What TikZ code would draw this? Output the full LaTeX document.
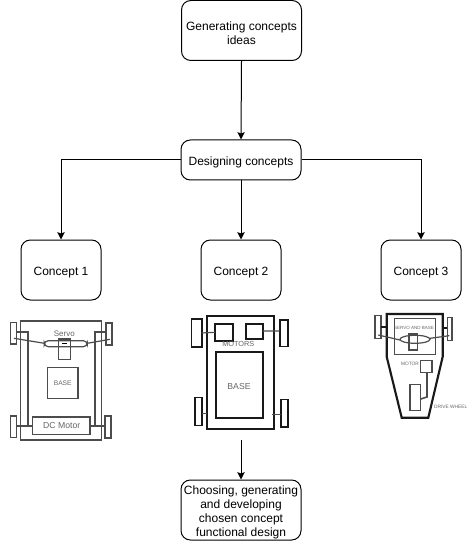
\documentclass[tikz,border=0pt]{standalone}
\usepackage{fontspec}
\setmainfont{Liberation Sans}
\usetikzlibrary{arrows,arrows.meta,calc}
\newcommand{\dropline}{\rule{0pt}{10.5pt}}
\begin{document}
\begin{tikzpicture}
  [
    x=0.75pt, y=-0.75pt,
    line width=0.75pt,
    block/.style =
      {draw, rectangle, rounded corners=7pt, align=center, font=\fontsize{9}{10.5}\selectfont,
       inner sep=0pt, minimum width=60pt, minimum height=45pt},
    wide/.style =
      {block, minimum width=90pt},
    sketch/.style = {draw=black!70, line width=0.9pt},
    heavy/.style = {draw=black!90, line width=1.6pt},
    tag/.style = {text=black!60, inner sep=0pt, font=\fontsize{5.5}{6}\selectfont},
    tiny/.style = {tag, font=\fontsize{3.6}{4}\selectfont}
  ]
  \useasboundingbox (0,0) rectangle (472,541);

  \node [wide] at (241.5,30.5) (g) {\dropline Generating concepts\\ideas};
  \node [wide, minimum height=30pt] at (241,160) (n) {\rule{0pt}{9.5pt}Designing concepts};
  \node [block] at ( 61,270) (a) {\rule{0pt}{9.5pt}Concept 1};
  \node [block] at (241,270) (b) {\rule{0pt}{9.5pt}Concept 2};
  \node [block] at (421,270) (c) {\rule{0pt}{9.5pt}Concept 3};
  \node [wide] at (241,510) (f) {\dropline Choosing, generating\\and developing\\chosen concept\\functional design};
  \coordinate (p) at (241,440);

  \draw[->, >={Stealth[length=5.5pt,width=5.5pt,inset=1pt]}] (g.south) -- (n.north);
  \draw[->, >={Stealth[length=5.5pt,width=5.5pt,inset=1pt]}] (n.west) -| (a.north);
  \draw[->, >={Stealth[length=5.5pt,width=5.5pt,inset=1pt]}] (n.south) -- (b.north);
  \draw[->, >={Stealth[length=5.5pt,width=5.5pt,inset=1pt]}] (n.east) -| (c.north);
  \draw[->, >={Stealth[length=5.5pt,width=5.5pt,inset=1pt]}] (p) -- (f.north);

  % concept 1
  \draw[sketch] (20.3,321) rectangle (101.7,440);
  \draw[sketch] (16.7,332) -| (28,427);
  \draw[sketch] (105,332) -| (95,427);
  \draw[sketch] (10.3,322.7) rectangle (16.7,344);
  \draw[sketch] (106,323) rectangle (112,345);
  \draw[sketch] (10.3,416) rectangle (16.7,437.7);
  \draw[sketch] (105,416) rectangle (111,438);
  \draw[sketch, fill=white] (32.3,417) rectangle (90,434.3);
  \draw[sketch] (16.7,426) -- (32.3,426) (90,426) -- (105,426);
  \draw[sketch] (47.3,367.3) rectangle (78,398.3);
  \draw[sketch] (14,338.3) -- (44.3,343.3) (87.3,343.3) -- (110,339.3);
  \draw[sketch, rounded corners=3pt] (44.3,340.7) rectangle (87.3,346.7);
  \draw[sketch] (58.3,339) rectangle (70.7,359.3);
  \fill[black] (62.3,342.7) rectangle (67.3,344.3);
  \node [tag, font=\fontsize{6}{7}\selectfont] at (64.3,334) (s1) {Servo};
  \node [tag, font=\fontsize{5}{6}\selectfont] at (62.7,383.3) (b1) {BASE};
  \node [tag, font=\fontsize{6.5}{7}\selectfont] at (61.7,425.3) (m1) {DC Motor};

  % concept 2
  \draw[heavy] (207,316) rectangle (273.7,429.3);
  \draw[heavy] (215,324) rectangle (233.3,340.7);
  \draw[heavy] (245.7,324.3) rectangle (263,339.3);
  \draw[heavy] (215.7,352.3) rectangle (263.3,418);
  \draw[heavy, line width=1.2pt] (191.3,319) rectangle (201.7,346.7);
  \draw[heavy, line width=1.2pt] (279.7,320) rectangle (288,346.3);
  \draw[heavy, line width=1.2pt] (194.7,397.3) rectangle (201.7,425.3);
  \draw[heavy, line width=1.2pt] (281,399.3) rectangle (287.7,427);
  \draw[sketch] (201.7,333) -- (215,332.3) (263,331) -- (279.7,331);
  \draw[sketch] (201.7,413.3) -- (207,413.3) (271.7,414.7) -- (281,414.7);
  \node [tag] at (238.3,343.7) (m2) {MOTORS};
  \node [tag, font=\fontsize{6.5}{7}\selectfont] at (239,387) (b2) {BASE};

  % concept 3
  \draw[heavy] (386.7,314) -- (442.7,314) -- (442.7,356.7) -- (428.3,417.7)
    -- (401.7,417.7) -- (386.7,356.7) -- cycle;
  \draw[sketch] (394.3,318.7) rectangle (435.3,354.3);
  \draw[sketch] (375,315.7) rectangle (381,338.7);
  \draw[sketch] (447.3,317.3) rectangle (452,340.3);
  \draw[heavy] (381,327.3) -- (386.7,327.3) (442.7,328.3) -- (447.3,328.3);
  \draw[sketch] (378.3,335) -- (400,340) (430,338.3) -- (449.3,335.7);
  \draw[sketch] (415,339.3) ellipse [x radius=15, y radius=4];
  \draw[sketch] (409,334) rectangle (417.7,350);
  \draw[sketch] (420.7,360.3) rectangle (432,372.7);
  \draw[sketch] (410,384.3) rectangle (420.7,410.3);
  \draw[sketch, line width=1.2pt] (427,372.7) -- (427,397) -- (420.7,399);
  \node [tiny, font=\fontsize{3.4}{4}\selectfont] at (414,328.3) (s3) {SERVO AND BASE};
  \node [tiny] at (410,364.3) (m3) {MOTOR};
  \node [tiny] at (450.7,407.3) (w3) {DRIVE WHEEL};
\end{tikzpicture}
\end{document}
